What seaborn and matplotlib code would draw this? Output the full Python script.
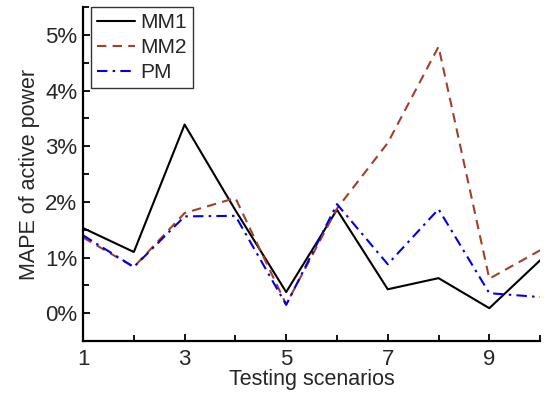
import seaborn as sns
import matplotlib.pyplot as plt
from matplotlib.ticker import MultipleLocator, FuncFormatter

scenarios = [1, 2, 3, 4, 5, 6, 7, 8, 9, 10]
mm1 = [1.53, 1.10, 3.39, 1.85, 0.38, 1.86, 0.43, 0.63, 0.09, 0.95]
mm2 = [1.36, 0.83, 1.80, 2.07, 0.16, 1.88, 3.06, 4.79, 0.62, 1.13]
pm = [1.40, 0.83, 1.74, 1.75, 0.15, 1.96, 0.88, 1.87, 0.36, 0.29]
xticks = [1, 3, 5, 7, 9]

sns.set_style('ticks')
plt.rcParams['font.family'] = ['Liberation Sans', 'DejaVu Sans']

fig = plt.figure(figsize=(5.5, 3.97), dpi=100)
ax = fig.add_axes([0.151, 0.141, 0.831, 0.841])

sns.lineplot(x=scenarios, y=mm1, ax=ax, color='black', lw=1.5, label='MM1')
sns.lineplot(x=scenarios, y=mm2, ax=ax, color='#A0402A', lw=1.5, label='MM2',
             linestyle=(0, (4.5, 3)))
sns.lineplot(x=scenarios, y=pm, ax=ax, color='#0000E6', lw=1.5, label='PM',
             linestyle=(0, (5, 2.5, 1.2, 2.5)))

ax.set_xlim(1, 10)
ax.set_ylim(-0.5, 5.5)
ax.set_xticks(xticks)
ax.xaxis.set_minor_locator(MultipleLocator(1))
ax.yaxis.set_major_locator(MultipleLocator(1))
ax.yaxis.set_minor_locator(MultipleLocator(0.5))
ax.yaxis.set_major_formatter(FuncFormatter(lambda v, p: f'{v:.0f}%'))
ax.tick_params(which='both', direction='in', labelsize=16, color='black', width=1.3)
ax.tick_params(which='major', length=5)
ax.tick_params(which='minor', length=4)
ax.tick_params(axis='x', pad=6)
ax.tick_params(axis='y', pad=4)
for s in ['top', 'right']:
    ax.spines[s].set_visible(False)
for s in ['left', 'bottom']:
    ax.spines[s].set_linewidth(1.6)
    ax.spines[s].set_color('black')

ax.set_xlabel('Testing scenarios', fontsize=15.5, labelpad=-1)
ax.set_ylabel('MAPE of active power', fontsize=15.5, labelpad=4)

leg = ax.legend(loc='upper left', bbox_to_anchor=(8 / 457, 1.0), fontsize=15,
                frameon=True, fancybox=False, handlelength=1.8,
                borderpad=0.3, labelspacing=0.28, handletextpad=0.25,
                borderaxespad=0.0)
leg.get_frame().set_edgecolor('black')
leg.get_frame().set_linewidth(1.0)

plt.savefig('out.png', dpi=100)
